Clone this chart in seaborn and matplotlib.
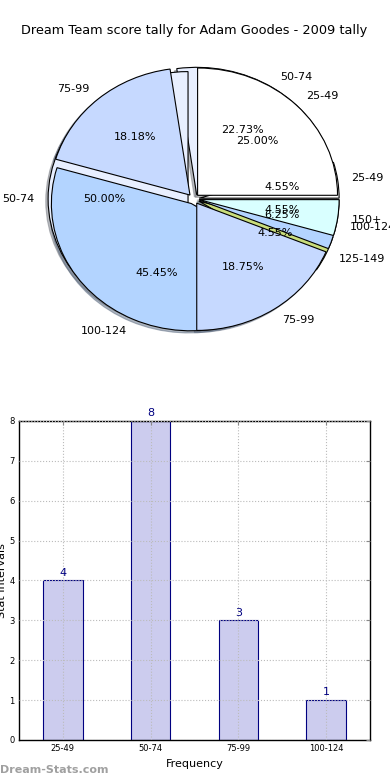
import matplotlib
matplotlib.use('Agg')
import matplotlib.pyplot as plt
import matplotlib.patches as mpatches
import seaborn as sns

title = 'Dream Team score tally for Adam Goodes - 2009 tally'

# 2009 season tally (16 games) - also used by the bar chart
season_labels = ['25-49', '50-74', '75-99', '100-124']
season_counts = [4, 8, 3, 1]

# second tally drawn over the first pie (22 games)
other_labels = ['25-49', '50-74', '75-99', '100-124', '125-149', '150+']
other_counts = [1, 5, 4, 10, 1, 1]

wedge_colors = ['#ffffff', '#e8efff', '#c6d9ff', '#b3d4ff', '#c9dd7b', '#d9ffff']

sns.set_style('white')
plt.rcParams['font.family'] = ['DejaVu Sans']
plt.rcParams['text.color'] = 'black'
plt.rcParams['axes.labelcolor'] = 'black'
plt.rcParams['xtick.labelcolor'] = 'black'
plt.rcParams['ytick.labelcolor'] = 'black'

fig = plt.figure(figsize=(3.9, 7.8), dpi=100)

# ---- pie (two tallies overlaid) ----
ax1 = fig.add_axes([0.048, 0.541, 0.897, 0.408])
wedge_kw = dict(edgecolor='black', linewidth=0.8)
shadow_kw = {'ox': -0.012, 'oy': -0.012, 'shade': 0.5}
wa, ta, pa = ax1.pie(season_counts, labels=season_labels, colors=wedge_colors[:4],
                     autopct='%1.2f%%', explode=[0.04] * 4, shadow=shadow_kw,
                     wedgeprops=wedge_kw, textprops=dict(fontsize=8, color='black'))
wb, tb, pb = ax1.pie(other_counts, labels=other_labels, colors=wedge_colors,
                     autopct='%1.2f%%', explode=[0.04] * 6, shadow=shadow_kw,
                     wedgeprops=wedge_kw, textprops=dict(fontsize=8, color='black'))
ax1.set_aspect('auto')
ax1.set_xlim(-1.25, 1.25)
ax1.set_ylim(-1.25, 1.25)

# shadows sit under every wedge
for p in ax1.patches:
    if isinstance(p, mpatches.Shadow):
        p.set_zorder(0.5)

# stacking of the overlapping wedges
layer_order = [(wb, 0), (wb, 1), (wa, 0), (wa, 1), (wb, 2), (wb, 3),
               (wb, 4), (wa, 2), (wa, 3), (wb, 5)]
for k, (ws, i) in enumerate(layer_order):
    ws[i].set_zorder(1 + 0.1 * k)

fig.text(0.497, 0.9615, title, ha='center', va='center', fontsize=9.3)

# ---- bar chart ----
ax2 = fig.add_axes([0.0487, 0.0513, 0.9, 0.409])
sns.barplot(x=season_labels, y=season_counts, ax=ax2, color='#ccccee',
            edgecolor='#000080', linewidth=0.8, width=0.45, saturation=1)
ax2.bar_label(ax2.containers[0], color='#000080', fontsize=8, padding=2)
ax2.set_ylim(0, 8)
ax2.set_yticks(range(0, 9))
ax2.set_xlim(-0.5, 3.5)
ax2.grid(True, linestyle=':', color='#bbbbbb', linewidth=0.8)
ax2.set_axisbelow(False)
ax2.tick_params(direction='in', top=True, right=True, labelsize=6,
                length=3, color='#888888', pad=3)
for s in ax2.spines.values():
    s.set_color('black')
    s.set_linewidth(1)
ax2.set_xlabel('Frequency', fontsize=8, labelpad=4)
ax2.set_ylabel('Stat Intervals', fontsize=8, labelpad=2)

fig.text(0.0, 0.0128, 'Dream-Stats.com', color='#a0a0a0', fontsize=8,
         fontweight='bold', ha='left', va='center')

fig.savefig('out.png', dpi=100)
